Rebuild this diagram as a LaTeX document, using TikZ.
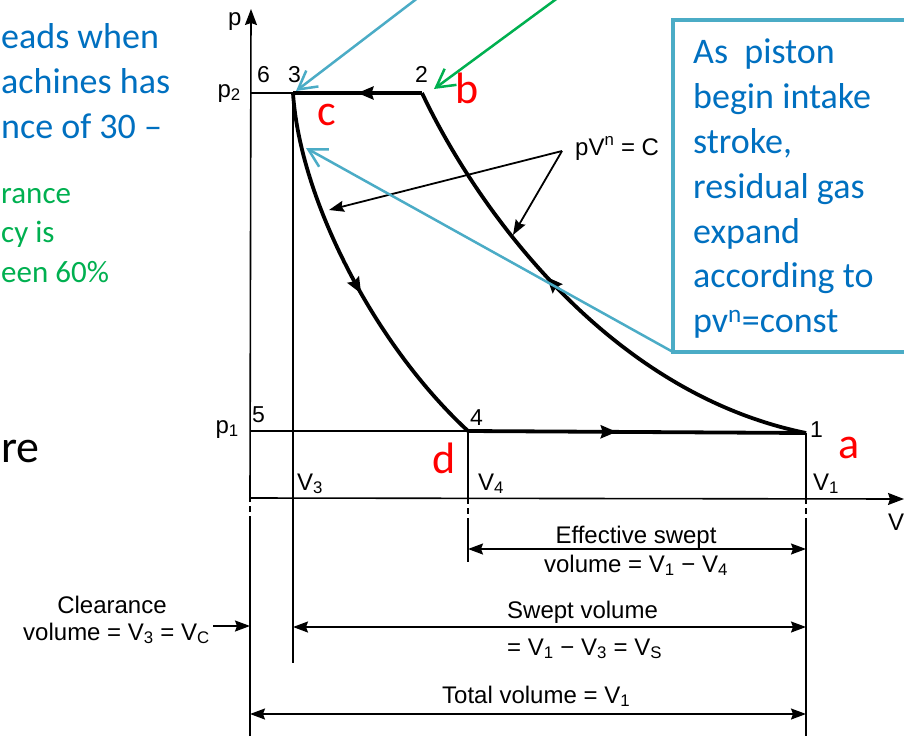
\documentclass[tikz,border=0pt]{standalone}
\usepackage{fontspec}
\setmainfont{Liberation Sans}
\newfontfamily\calfont{Carlito}
\usetikzlibrary{arrows.meta,decorations.markings}
\definecolor{tealc}{HTML}{4BACC6}
\definecolor{bluet}{HTML}{0070C0}
\definecolor{greent}{HTML}{00B050}
\definecolor{redt}{HTML}{FF0000}
\begin{document}
\begin{tikzpicture}[x=1pt,y=-1pt,
  thinline/.style={line width=1.6pt},
  dashline/.style={line width=1.6pt, dash pattern=on 6pt off 4pt},
  cyc/.style={line width=3.8pt, line join=round},
  lab/.style={font=\fontsize{24}{28}\selectfont, inner sep=0pt},
  num/.style={font=\fontsize{23}{27}\selectfont, inner sep=0pt, anchor=base west},
  bluetxt/.style={font=\calfont\fontsize{36}{44}\selectfont, text=bluet, inner sep=0pt, anchor=base west},
  greentxt/.style={font=\calfont\fontsize{31}{38}\selectfont, text=greent, inner sep=0pt, anchor=base west},
  redtxt/.style={font=\calfont\fontsize{44}{50}\selectfont, text=redt, inner sep=0pt, anchor=base west},
  bigtxt/.style={font=\calfont\fontsize{46}{52}\selectfont, inner sep=0pt, anchor=base west},
  tipa/.tip={Stealth[length=15pt,width=11pt,inset=2pt]},
  ptr/.style={line width=1.8pt, -tipa},
  dimline/.style={line width=1.6pt, tipa-tipa},
  callout/.style={line width=2.5pt, -{Straight Barb[length=18pt,width=20pt,line width=2.5pt]}},
  midarrow/.style={postaction={decorate,decoration={markings,
     mark=at position #1 with {\arrow{Stealth[length=16pt,width=13pt,inset=2pt]}}}}}
]
\useasboundingbox (0,0) rectangle (904,736);
\fill[white] (0,0) rectangle (904,736);
\clip (0,0) rectangle (904,736);

% key points
\coordinate (O) at (250,498);
\coordinate (Ptop) at (251,9);
\coordinate (Vend) at (904,499);
\coordinate (P6) at (250,93);
\coordinate (P3) at (293,93);
\coordinate (P2) at (422,93);
\coordinate (P5) at (250,431);
\coordinate (P4) at (468,431);
\coordinate (P1) at (806,433);

% p axis
\coordinate (Ybot) at (250,736);
\coordinate (Yd) at (250,522);
\draw[thinline] (Ybot) -- (Yd);
\draw[dashline] (Yd) -- (O);
\draw[thinline, -{Stealth[length=16pt,width=12pt,inset=2pt]}] (O) -- (Ptop);
% V axis
\draw[thinline, -{Stealth[length=16pt,width=12pt,inset=2pt]}] (O) -- (Vend);

% V3 line
\coordinate (V3b) at (293,663);
\draw[thinline] (P3) -- (V3b);
% V4 line
\coordinate (V4a) at (468,498);
\coordinate (V4b) at (468,522);
\coordinate (V4c) at (468,562);
\draw[thinline] (P4) -- (V4a);
\draw[dashline] (V4a) -- (V4b);
\draw[thinline] (V4b) -- (V4c);
% V1 line
\coordinate (V1a) at (806,498);
\coordinate (V1b) at (806,520);
\coordinate (V1c) at (806,736);
\draw[thinline] (P1) -- (V1a);
\draw[dashline] (V1a) -- (V1b);
\draw[thinline] (V1b) -- (V1c);

% thin pressure lines
\draw[thinline] (P6) -- (P3);
\draw[thinline] (P5) -- (P4);

% cycle
\draw[cyc, midarrow=0.5] (P2) -- (P3);
\draw[cyc, midarrow=0.55] (P3) .. controls (300,200) and (375,345) .. (P4);
\draw[cyc, midarrow=0.44] (P4) -- (P1);
\draw[cyc, midarrow=0.58] (P1) .. controls (600,391) and (470,195) .. (P2);

% pV^n = C pointers
\coordinate (PV) at (562,151);
\coordinate (T34) at (329,210);
\coordinate (T21) at (513,235);
\draw[ptr] (PV) -- (T34);
\draw[ptr] (PV) -- (T21);
\node[lab, anchor=base west] (lpv) at (575,155) {pV\textsuperscript{n} = C};

% axis and point labels
\node[lab, anchor=base west] (lp) at (228,25) {p};
\node[lab, anchor=base west] (lV) at (888,530) {V};
\node[num] (l6) at (257,82) {6};
\node[num] (l3) at (288,82) {3};
\node[num] (l2) at (415,82) {2};
\node[num] (l5) at (252,422) {5};
\node[num] (l4) at (470,425) {4};
\node[num] (l1) at (810,437) {1};
\node[lab, anchor=base east] (lp2) at (241,97) {p\textsubscript{2}};
\node[lab, anchor=base east] (lp1) at (239,433) {p\textsubscript{1}};
\node[lab, anchor=base west] (lv3) at (297,490) {V\textsubscript{3}};
\node[lab, anchor=base west] (lv4) at (478,490) {V\textsubscript{4}};
\node[lab, anchor=base west] (lv1) at (813,490) {V\textsubscript{1}};

% red letters
\node[redtxt] (ra) at (838,458) {a};
\node[redtxt] (rb) at (455,103) {b};
\node[redtxt] (rc) at (317,125) {c};
\node[redtxt] (rd) at (432,473) {d};

% dimension lines
\coordinate (E1) at (468,549);
\coordinate (E2) at (806,549);
\draw[dimline] (E1) -- (E2);
\node[lab, anchor=base] (te1) at (636,543) {Effective swept};
\node[lab, anchor=base] (te2) at (636,572) {volume = V\textsubscript{1} − V\textsubscript{4}};

\coordinate (S1) at (293,627);
\coordinate (S2) at (806,627);
\draw[dimline] (S1) -- (S2);
\node[lab, anchor=base west] (ts1) at (507,618) {Swept volume};
\node[lab, anchor=base west] (ts2) at (507,655) {= V\textsubscript{1} − V\textsubscript{3} = V\textsubscript{S}};

\coordinate (Tt1) at (250,714);
\coordinate (Tt2) at (806,714);
\draw[dimline] (Tt1) -- (Tt2);
\node[lab, anchor=base west] (tt) at (442,703) {Total volume = V\textsubscript{1}};

\coordinate (C1) at (213,626);
\coordinate (C2) at (250,626);
\draw[thinline, -tipa] (C1) -- (C2);
\node[lab, anchor=base] (tc1) at (112,613) {Clearance};
\node[lab, anchor=base east] (tc2) at (210,640) {volume = V\textsubscript{3} = V\textsubscript{C}};

% callout box
\node[draw=tealc, line width=4pt, inner sep=0pt, outer sep=0pt,
      minimum width=242pt, minimum height=332pt, anchor=north west] (box) at (673,20) {};
\node[bluetxt] (b1) at (693,63) {As\ \ piston};
\node[bluetxt] (b2) at (693,108) {begin intake};
\node[bluetxt] (b3) at (693,153) {stroke,};
\node[bluetxt] (b4) at (693,198) {residual gas};
\node[bluetxt] (b5) at (693,243) {expand};
\node[bluetxt] (b6) at (693,287) {according to};
\node[bluetxt] (b7) at (693,332) {pv\textsuperscript{n}=const};

% callout arrows
\coordinate (Ts1) at (419,-3);
\coordinate (Tip3) at (296,91);
\draw[callout, tealc] (Ts1) -- (Tip3);
\coordinate (Tip34) at (306,148);
\draw[callout, tealc] (box.south west) -- (Tip34);
\coordinate (Gs) at (559,-3);
\coordinate (Gtip) at (434,89);
\draw[callout, greent] (Gs) -- (Gtip);

% left slide text
\node[bluetxt] (lt1) at (1,48) {eads when};
\node[bluetxt] (lt2) at (1,93) {achines has};
\node[bluetxt] (lt3) at (1,138) {nce of 30 –};
\node[greentxt] (gt1) at (1,203) {rance};
\node[greentxt] (gt2) at (1,242) {cy is};
\node[greentxt] (gt3) at (1,282) {een 60\%};
\node[bigtxt] (re) at (1,462) {re};
\end{tikzpicture}
\end{document}
